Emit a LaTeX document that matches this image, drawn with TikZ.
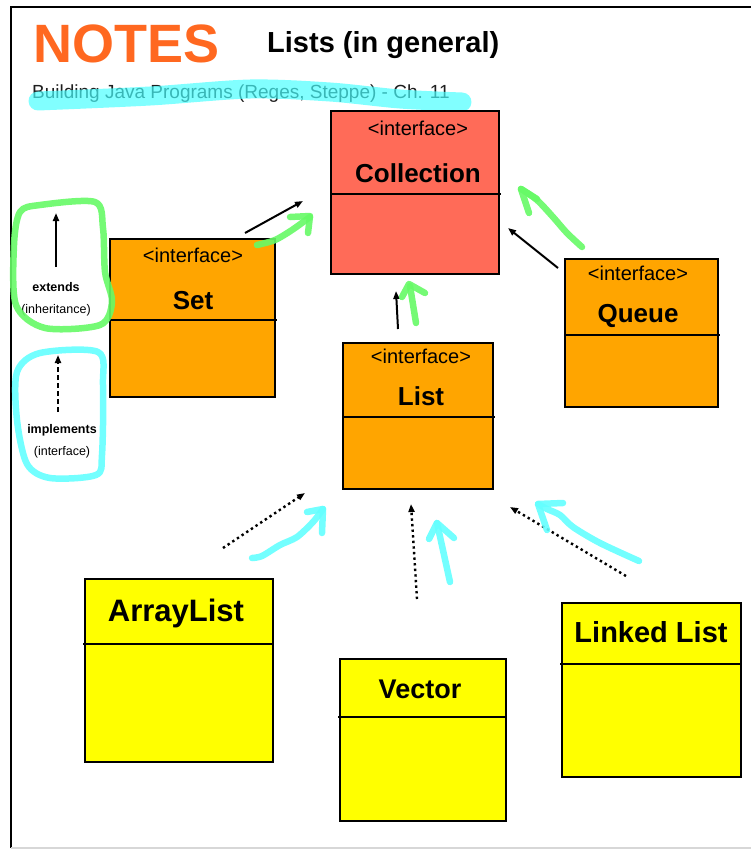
\documentclass[tikz,border=0pt]{standalone}
\usepackage{fontspec}
\setmainfont{Liberation Sans}
\usetikzlibrary{arrows.meta,positioning,calc}
\definecolor{Salmon}{RGB}{255,107,88}
\definecolor{Amber}{RGB}{255,165,0}
\definecolor{Lemon}{RGB}{255,255,0}
\definecolor{NoteOrange}{RGB}{255,104,32}
\definecolor{PenGreen}{RGB}{102,250,102}
\definecolor{PenCyan}{RGB}{100,255,255}
\definecolor{MarkCyan}{RGB}{70,255,255}
\definecolor{EdgeGray}{RGB}{215,215,215}
\definecolor{SubGray}{RGB}{30,30,30}
\tikzset{
  classbox/.style={draw=black,line width=2.2pt,anchor=north west,inner sep=0pt,outer sep=0pt},
  divider/.style={draw=black,line width=2pt},
  stereo/.style={anchor=base,inner sep=0pt,font=\fontsize{20}{22}\selectfont},
  cname/.style={anchor=base,inner sep=0pt,font=\fontsize{26}{28}\selectfont\bfseries},
  keylabel/.style={anchor=base,inner sep=0pt,font=\fontsize{12.5}{14}\selectfont},
  extarrow/.style={-{Triangle[length=8pt,width=6pt]},line width=2pt},
  imparrow/.style={-{Triangle[length=8pt,width=6pt]},line width=2.4pt,dash pattern=on 2.4pt off 3.2pt},
  keydash/.style={-{Triangle[length=8pt,width=6pt]},line width=2.2pt,dash pattern=on 5pt off 3pt},
  greenpen/.style={draw=PenGreen,line width=6.5pt,line cap=round,line join=round,opacity=0.9},
  cyanpen/.style={draw=PenCyan,line width=6.5pt,line cap=round,line join=round,opacity=0.9}
}

\begin{document}
\begin{tikzpicture}[x=1pt,y=-1pt]
\useasboundingbox (0,0) rectangle (750,849);
\draw[line width=2.4pt] (11,848) -- (11,7) -- (760,7);
\draw[EdgeGray,line width=1.5pt] (11,848) -- (760,848);

\node[anchor=base west,inner sep=0pt,text=NoteOrange,font=\fontsize{54}{56}\selectfont\bfseries] (notes) at (33,62) {NOTES};
\node[anchor=base west,inner sep=0pt,font=\fontsize{29}{31}\selectfont\bfseries] (title) at (267,52) {Lists (in general)};
\node[anchor=base west,inner sep=0pt,text=SubGray,font=\fontsize{19}{21}\selectfont] (book) at (32,98) {Building Java Programs (Reges, Steppe) - Ch. 11};
\draw[MarkCyan,line width=19pt,line cap=round,opacity=0.68] plot[smooth] coordinates {(38,101) (150,96) (250,89) (330,92) (400,99) (462,102)};

\node[classbox,fill=Salmon,minimum width=168pt,minimum height=163pt] (coll) at (331,111) {};
\draw[divider] ($(coll.north west)+(0,83)$) -- ($(coll.north east)+(2,83)$);
\node[stereo] (collst) at (418,135) {<interface>};
\node[cname] (collnm) at (418,182) {Collection};

\node[classbox,fill=Amber,minimum width=165pt,minimum height=158pt] (set) at (110,239) {};
\draw[divider] ($(set.north west)+(0,81)$) -- ($(set.north east)+(2,81)$);
\node[stereo] (setst) at (193,262) {<interface>};
\node[cname] (setnm) at (193,309) {Set};

\node[classbox,fill=Amber,minimum width=153pt,minimum height=148pt] (queue) at (565,259) {};
\draw[divider] ($(queue.north west)+(0,76)$) -- ($(queue.north east)+(2,76)$);
\node[stereo] (queuest) at (638,280) {<interface>};
\node[cname] (queuenm) at (638,322) {Queue};

\node[classbox,fill=Amber,minimum width=150pt,minimum height=146pt] (list) at (343,343) {};
\draw[divider] ($(list.north west)+(0,74)$) -- ($(list.north east)+(2,74)$);
\node[stereo] (listst) at (421,363) {<interface>};
\node[cname] (listnm) at (421,405) {List};

\node[classbox,fill=Lemon,minimum width=188pt,minimum height=183pt] (alist) at (85,579) {};
\draw[divider] ($(alist.north west)+(-2,65)$) -- ($(alist.north east)+(0,65)$);
\node[cname,font=\fontsize{31}{33}\selectfont\bfseries] (alistnm) at (176,621) {ArrayList};

\node[classbox,fill=Lemon,minimum width=166pt,minimum height=162pt] (vector) at (340,659) {};
\draw[divider] ($(vector.north west)+(-2,58)$) -- ($(vector.north east)+(0,58)$);
\node[cname,font=\fontsize{27}{29}\selectfont\bfseries] (vectornm) at (420,698) {Vector};

\node[classbox,fill=Lemon,minimum width=179pt,minimum height=174pt] (llist) at (562,603) {};
\draw[divider] ($(llist.north west)+(-2,61)$) -- ($(llist.north east)+(0,61)$);
\node[cname,font=\fontsize{29}{31}\selectfont\bfseries] (llistnm) at (651,642) {Linked List};

\coordinate (setTail) at (245,233);
\coordinate (setHead) at (303,201);
\coordinate (queueTail) at (558,268);
\coordinate (queueHead) at (508,228);
\coordinate (listTail) at (398,329);
\coordinate (listHead) at (396,291);
\draw[extarrow] (setTail) -- (setHead);
\draw[extarrow] (queueTail) -- (queueHead);
\draw[extarrow] (listTail) -- (listHead);

\coordinate (alistTail) at (223,548);
\coordinate (alistHead) at (305,493);
\coordinate (vectorTail) at (417,599);
\coordinate (vectorHead) at (411,504);
\coordinate (llistTail) at (626,576);
\coordinate (llistHead) at (510,507);
\draw[imparrow] (alistTail) -- (alistHead);
\draw[imparrow] (vectorTail) -- (vectorHead);
\draw[imparrow] (llistTail) -- (llistHead);

\coordinate (extTail) at (56,267);
\coordinate (extHead) at (56,213);
\draw[extarrow] (extTail) -- (extHead);
\node[keylabel,font=\fontsize{12.5}{14}\selectfont\bfseries] (extnm) at (56,291) {extends};
\node[keylabel] (extnote) at (56,313) {(inheritance)};
\coordinate (impTail) at (58,412);
\coordinate (impHead) at (58,355);
\draw[keydash] (impTail) -- (impHead);
\node[keylabel,font=\fontsize{12.5}{14}\selectfont\bfseries] (impnm) at (62,433) {implements};
\node[keylabel] (impnote) at (62,455) {(interface)};

\draw[greenpen] plot[smooth cycle] coordinates {(40,205) (95,202) (103,228) (105,272) (112,302) (100,325) (45,328) (16,305) (14,245) (20,212)};
\draw[cyanpen] plot[smooth cycle] coordinates {(40,353) (98,352) (103,385) (102,455) (96,475) (50,478) (27,464) (17,420) (17,372)};

\draw[greenpen] plot[smooth] coordinates {(257,245) (275,240) (292,230) (310,217)};
\draw[greenpen] (290,217) -- (310,216) -- (308,233);
\draw[greenpen] plot[smooth] coordinates {(582,247) (567,233) (553,217) (537,200) (521,189)};
\draw[greenpen] (529,213) -- (521,189) -- (537,199);
\draw[greenpen] (416,323) -- (410,286);
\draw[greenpen] (402,297) -- (409,284) -- (425,293);

\draw[cyanpen] plot[smooth] coordinates {(252,558) (262,556) (280,545) (297,537) (313,522) (323,509)};
\draw[cyanpen] (307,512) -- (323,509) -- (322,533);
\draw[cyanpen] (450,582) -- (437,523);
\draw[cyanpen] (429,539) -- (437,523) -- (454,538);
\draw[cyanpen] plot[smooth] coordinates {(639,561) (600,543) (573,527) (560,515) (547,509) (538,504)};
\draw[cyanpen] (563,503) -- (538,504) -- (547,530);
\end{tikzpicture}
\end{document}
